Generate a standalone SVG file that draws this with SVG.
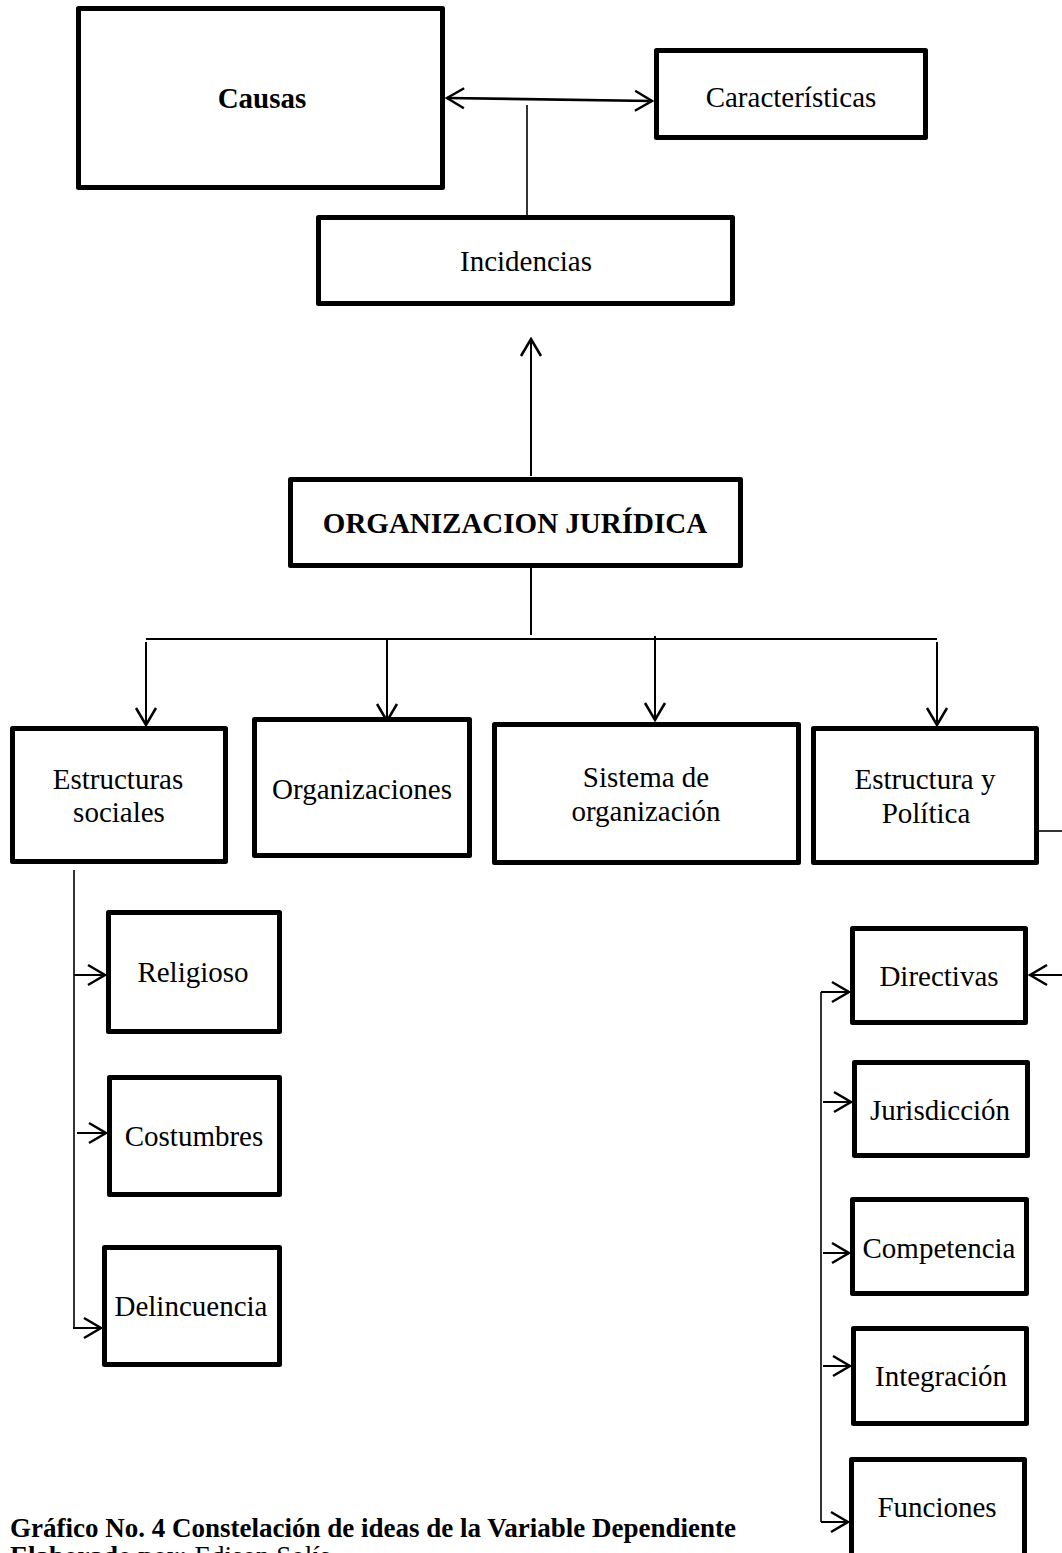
<svg xmlns="http://www.w3.org/2000/svg" width="1062" height="1553" viewBox="0 0 1062 1553">
<style>
.box{fill:#fff;stroke:#000;stroke-width:5;stroke-linejoin:round}
.t{font-family:"Liberation Serif","Times New Roman",serif;font-size:29px;fill:#000;text-anchor:middle}
.b{font-weight:bold}
.c{fill:none;stroke:#000;stroke-width:2}
.th{fill:none;stroke:#000;stroke-width:1.6}
.cap{font-family:"Liberation Serif","Times New Roman",serif;font-size:27px;fill:#000}
</style>
<defs>
<marker id="ah" viewBox="-20 -12 22 24" refX="0" refY="0" markerWidth="22" markerHeight="24" markerUnits="userSpaceOnUse" orient="auto-start-reverse">
<path d="M-17,-10 L0,0 L-17,10" fill="none" stroke="#000" stroke-width="2.5"/>
</marker>
</defs>
<rect width="1062" height="1553" fill="#fff"/>
<g id="connectors">
<line class="c" x1="447" y1="98" x2="652" y2="101" marker-start="url(#ah)" marker-end="url(#ah)" style="stroke-width:2.6"/>
<line class="th" x1="527" y1="105" x2="527" y2="215"/>
<line class="c" x1="531" y1="476" x2="531" y2="339" marker-end="url(#ah)"/>
<line class="c" x1="531" y1="568" x2="531" y2="635"/>
<line class="c" x1="146" y1="639" x2="937" y2="639"/>
<line class="c" x1="146" y1="642" x2="146" y2="725" marker-end="url(#ah)"/>
<line class="c" x1="387" y1="639" x2="387" y2="721" marker-end="url(#ah)"/>
<line class="c" x1="655" y1="636" x2="655" y2="720" marker-end="url(#ah)"/>
<line class="c" x1="937" y1="642" x2="937" y2="725" marker-end="url(#ah)"/>
<line class="th" x1="74" y1="870" x2="74" y2="1328"/>
<line class="c" x1="74" y1="975" x2="105" y2="975" marker-end="url(#ah)"/>
<line class="c" x1="77" y1="1133" x2="106" y2="1133" marker-end="url(#ah)"/>
<line class="c" x1="73" y1="1328" x2="101" y2="1328" marker-end="url(#ah)"/>
<line class="th" x1="1039" y1="831" x2="1062" y2="831"/>
<line class="c" x1="1062" y1="975" x2="1030" y2="975" marker-end="url(#ah)"/>
<line class="th" x1="821" y1="992" x2="821" y2="1522"/>
<line class="c" x1="821" y1="992" x2="849" y2="992" marker-end="url(#ah)"/>
<line class="c" x1="823" y1="1102" x2="851" y2="1102" marker-end="url(#ah)"/>
<line class="c" x1="823" y1="1253" x2="849" y2="1253" marker-end="url(#ah)"/>
<line class="c" x1="823" y1="1366" x2="850" y2="1366" marker-end="url(#ah)"/>
<line class="c" x1="821" y1="1522" x2="848" y2="1522" marker-end="url(#ah)"/>
</g>
<g id="causas"><rect class="box" x="78.5" y="8.5" width="364" height="179"/><text class="t b" x="262" y="108">Causas</text></g>
<g id="caracteristicas"><rect class="box" x="656.5" y="50.5" width="269" height="87"/><text class="t" x="791" y="107">Características</text></g>
<g id="incidencias"><rect class="box" x="318.5" y="217.5" width="414" height="86"/><text class="t" x="526" y="271">Incidencias</text></g>
<g id="organizacion-juridica"><rect class="box" x="290.5" y="479.5" width="450" height="86"/><text class="t b" x="515" y="533">ORGANIZACION JURÍDICA</text></g>
<g id="estructuras-sociales"><rect class="box" x="12.5" y="728.5" width="213" height="133"/><text class="t" x="118" y="789">Estructuras</text><text class="t" x="119" y="822">sociales</text></g>
<g id="organizaciones"><rect class="box" x="254.5" y="719.5" width="215" height="136"/><text class="t" x="362" y="799">Organizaciones</text></g>
<g id="sistema-organizacion"><rect class="box" x="494.5" y="724.5" width="304" height="138"/><text class="t" x="646" y="787">Sistema de</text><text class="t" x="646" y="821">organización</text></g>
<g id="estructura-politica"><rect class="box" x="813.5" y="728.5" width="223" height="134"/><text class="t" x="925" y="789">Estructura y</text><text class="t" x="926" y="823">Política</text></g>
<g id="religioso"><rect class="box" x="108.5" y="912.5" width="171" height="119"/><text class="t" x="193" y="982">Religioso</text></g>
<g id="costumbres"><rect class="box" x="109.5" y="1077.5" width="170" height="117"/><text class="t" x="194" y="1146">Costumbres</text></g>
<g id="delincuencia"><rect class="box" x="104.5" y="1247.5" width="175" height="117"/><text class="t" x="191" y="1316">Delincuencia</text></g>
<g id="directivas"><rect class="box" x="852.5" y="928.5" width="173" height="94"/><text class="t" x="939" y="986">Directivas</text></g>
<g id="jurisdiccion"><rect class="box" x="854.5" y="1062.5" width="173" height="93"/><text class="t" x="940" y="1120">Jurisdicción</text></g>
<g id="competencia"><rect class="box" x="852.5" y="1199.5" width="174" height="94"/><text class="t" x="939" y="1258">Competencia</text></g>
<g id="integracion"><rect class="box" x="853.5" y="1328.5" width="173" height="95"/><text class="t" x="941" y="1386">Integración</text></g>
<g id="funciones"><rect class="box" x="851.5" y="1459.5" width="173" height="110"/><text class="t" x="937" y="1517">Funciones</text></g>
<g id="caption">
<text class="cap" x="10" y="1537" font-weight="bold">Gráfico No. 4 Constelación de ideas de la Variable Dependiente</text>
<text class="cap" x="10" y="1565"><tspan font-weight="bold">Elaborado por:</tspan> Edison Solís</text>
</g>
</svg>
